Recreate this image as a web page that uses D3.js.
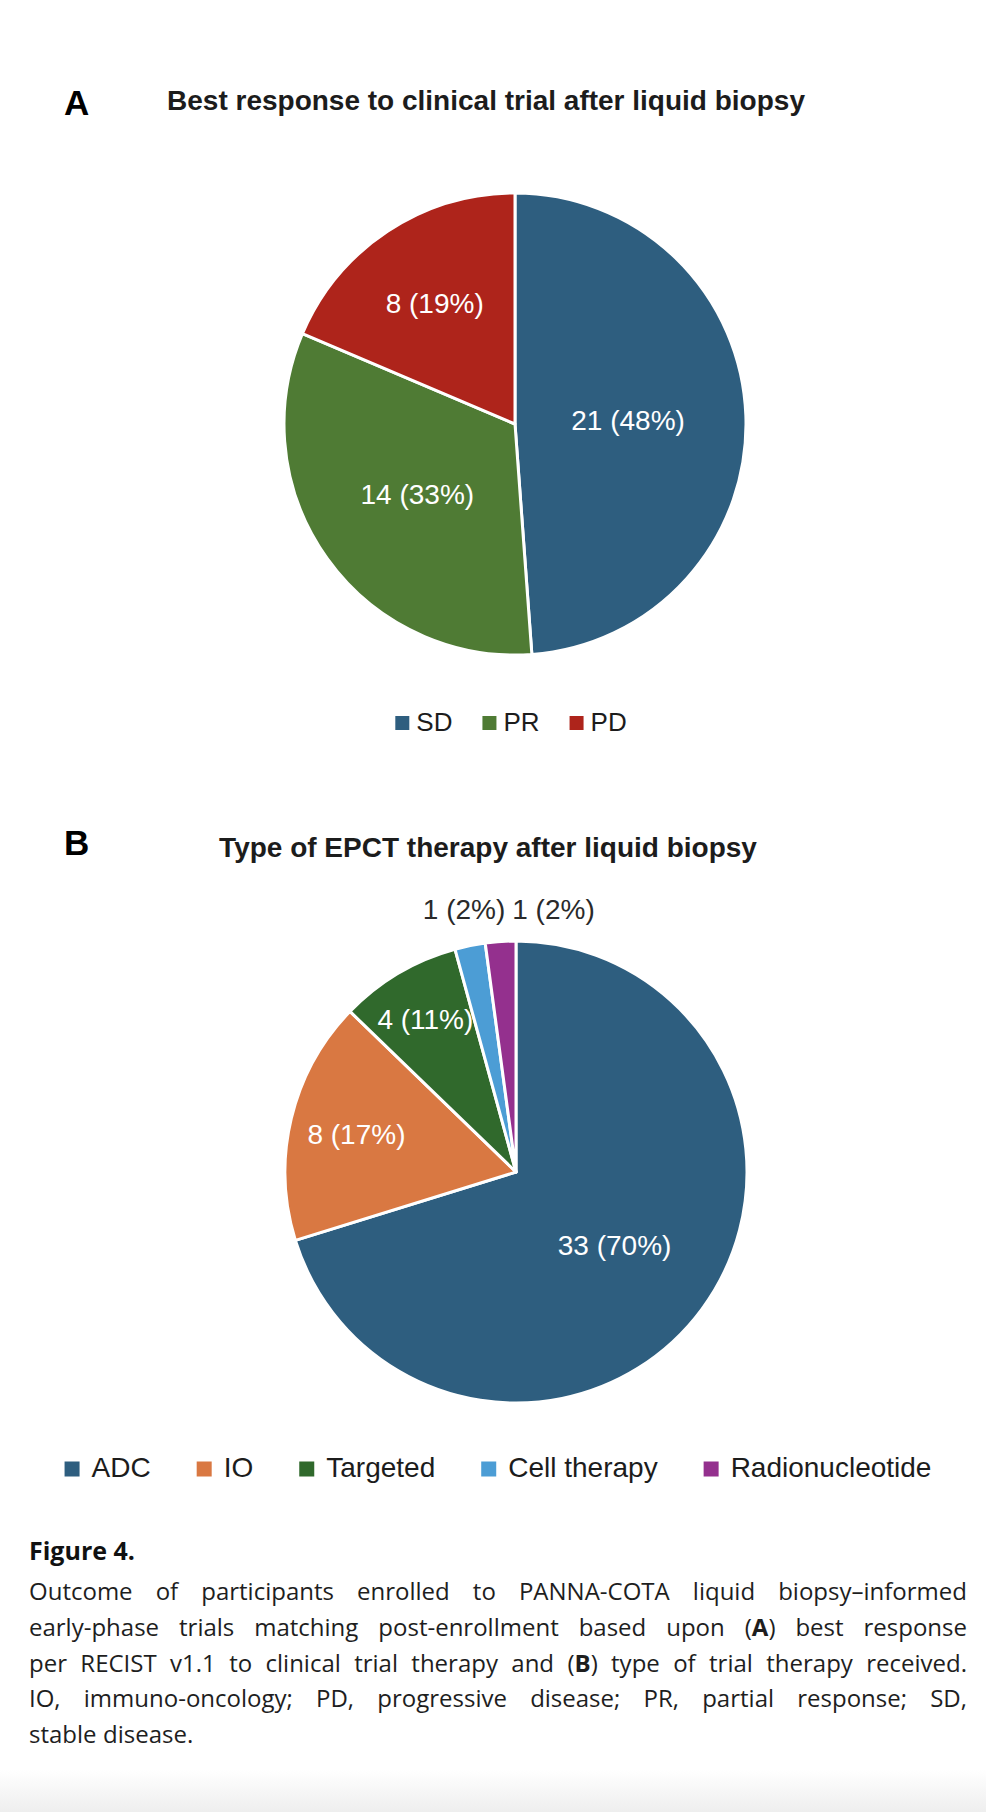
<!DOCTYPE html>
<html>
<head>
<meta charset="utf-8">
<script src="https://cdn.jsdelivr.net/npm/d3@7"></script>
<style>
  body { margin: 0; background: #fff; }
  svg { display: block; }
</style>
</head>
<body>
<svg id="fig" width="986" height="1812"></svg>
<script>
// ---- panel A: best response
var responseCats = ['SD', 'PR', 'PD'];
var responseCounts = [21, 14, 8];
var responseLabels = ['21 (48%)', '14 (33%)', '8 (19%)'];
var responseColors = ['#2e5e7f', '#4f7b34', '#ae241b'];
var responseLabelRad = [0.49, 0.52, 0.63];

// ---- panel B: type of therapy
var therapyCats = ['ADC', 'IO', 'Targeted', 'Cell therapy', 'Radionucleotide'];
var therapyCounts = [33, 8, 4, 1, 1];
var therapyLabels = ['33 (70%)', '8 (17%)', '4 (11%)', '1 (2%)', '1 (2%)'];
var therapyColors = ['#2e5e7f', '#d97842', '#30692c', '#4c9dd5', '#94308e'];
var therapyLabelRad = [0.53, 0.71, 0.77, null, null];   // null = label outside

var captionLines = [
    'Outcome of participants enrolled to PANNA-COTA liquid biopsy\u2013informed',
    'early-phase trials matching post-enrollment based upon (**A**) best response',
    'per RECIST v1.1 to clinical trial therapy and (**B**) type of trial therapy received.',
    'IO, immuno-oncology; PD, progressive disease; PR, partial response; SD,',
    'stable disease.'
];

var svg = d3.select('#fig');
var chartFont = '"Liberation Sans", Arial, Helvetica, sans-serif';
var capFont = '"Open Sans", Lato, sans-serif';
var R = 231;

// faint grey at the bottom edge of the page
var grad = svg.append('defs').append('linearGradient').attr('id', 'fade')
    .attr('x1', 0).attr('x2', 0).attr('y1', 0).attr('y2', 1);
grad.append('stop').attr('offset', 0).attr('stop-color', '#fff');
grad.append('stop').attr('offset', 1).attr('stop-color', '#eeeeee');
svg.append('rect').attr('x', 0).attr('y', 1770).attr('width', 986).attr('height', 42).attr('fill', 'url(#fade)');

function panelHead(letter, title, letterY, titleX, titleY) {
    svg.append('text')
        .attr('x', 64).attr('y', letterY)
        .attr('font-family', chartFont).attr('font-weight', 700).attr('font-size', 35)
        .attr('fill', '#000').text(letter);
    svg.append('text')
        .attr('x', titleX).attr('y', titleY).attr('text-anchor', 'middle')
        .attr('font-family', chartFont).attr('font-weight', 700).attr('font-size', 28)
        .attr('fill', '#1c1c1c').text(title);
}

function drawPie(counts, labels, colors, labelRad, cx, cy) {
    var arcs = d3.pie().sort(null).value(function(d) { return d; })(counts);
    var arc = d3.arc().innerRadius(0).outerRadius(R);
    var g = svg.append('g').attr('transform', 'translate(' + cx + ',' + cy + ')');

    g.selectAll('path.slice')
        .data(arcs)
      .enter().append('path')
        .attr('class', 'slice')
        .attr('d', arc)
        .attr('fill', function(d, i) { return colors[i]; })
        .attr('stroke', '#fff')
        .attr('stroke-width', 3)
        .attr('stroke-linejoin', 'round');

    // labels inside the slices
    arcs.forEach(function(d, i) {
        if (labelRad[i] === null) return;
        var k = labelRad[i] * R;
        var c = d3.arc().innerRadius(k).outerRadius(k).centroid(d);
        g.append('text')
            .attr('x', c[0]).attr('y', c[1]).attr('dy', '0.36em')
            .attr('text-anchor', 'middle')
            .attr('font-family', chartFont).attr('font-size', 28)
            .attr('fill', '#fff').text(labels[i]);
    });

    // small slices: labels above the pie, pushed apart so they don't overlap
    var outside = [];
    arcs.forEach(function(d, i) {
        if (labelRad[i] !== null) return;
        var c = d3.arc().innerRadius(R + 30).outerRadius(R + 30).centroid(d);
        var t = g.append('text')
            .attr('y', -R - 22)
            .attr('font-family', chartFont).attr('font-size', 28)
            .attr('fill', '#2a2a2a').text(labels[i]);
        var w = t.node().getComputedTextLength();
        outside.push({ t: t, x: c[0] - w / 2, w: w });
    });
    outside.sort(function(a, b) { return a.x - b.x; });
    var prevEnd = -Infinity;
    outside.forEach(function(o) {
        if (o.x < prevEnd + 7) o.x = prevEnd + 7;
        o.t.attr('x', o.x);
        prevEnd = o.x + o.w;
    });
}

function drawLegend(cats, colors, cx, y, fs, sq, pad, gap) {
    var g = svg.append('g');
    var items = cats.map(function(c, i) {
        var it = g.append('g');
        it.append('rect')
            .attr('width', sq).attr('height', sq)
            .attr('y', y - 8 - sq / 2)
            .attr('fill', colors[i]);
        var t = it.append('text')
            .attr('x', sq + pad).attr('y', y)
            .attr('font-family', chartFont).attr('font-size', fs)
            .attr('fill', '#1c1c1c').text(c);
        return { g: it, w: sq + pad + t.node().getComputedTextLength() };
    });
    var total = d3.sum(items, function(d) { return d.w; }) + gap * (items.length - 1);
    var x = cx - total / 2;
    items.forEach(function(d) {
        d.g.attr('transform', 'translate(' + x + ',0)');
        x += d.w + gap;
    });
}

// ---- panel A
panelHead('A', 'Best response to clinical trial after liquid biopsy', 115, 486, 110);
drawPie(responseCounts, responseLabels, responseColors, responseLabelRad, 515, 424);
drawLegend(responseCats, responseColors, 511, 731, 26, 14, 7, 30);

// ---- panel B
panelHead('B', 'Type of EPCT therapy after liquid biopsy', 855, 488, 857);
drawPie(therapyCounts, therapyLabels, therapyColors, therapyLabelRad, 516, 1172);
drawLegend(therapyCats, therapyColors, 498, 1477, 28, 15, 12, 46);

// ---- caption
var capLeft = 29, capRight = 967, capTop = 1600, capLead = 35.8, capSize = 24;

svg.append('text')
    .attr('x', capLeft).attr('y', 1560)
    .attr('font-family', capFont).attr('font-weight', 700).attr('font-size', 25)
    .attr('fill', '#111').text('Figure 4.');

captionLines.forEach(function(line, li) {
    var y = capTop + li * capLead;
    var words = line.split(' ');
    var nodes = words.map(function(w) {
        var t = svg.append('text')
            .attr('y', y)
            .attr('font-family', capFont).attr('font-size', capSize)
            .attr('fill', '#1e1e1e');
        w.split('**').forEach(function(part, k) {
            if (part) t.append('tspan').attr('font-weight', k % 2 ? 700 : 400).text(part);
        });
        return t;
    });
    var widths = nodes.map(function(n) { return n.node().getComputedTextLength(); });
    var space = li === captionLines.length - 1 ? 6.5
        : (capRight - capLeft - d3.sum(widths)) / (words.length - 1);
    // if a line is too long, squeeze the words a little rather than overlap them
    if (space < 5) {
        var k = (capRight - capLeft - 5 * (words.length - 1)) / d3.sum(widths);
        nodes.forEach(function(n, i) {
            n.attr('textLength', widths[i] * k).attr('lengthAdjust', 'spacingAndGlyphs');
            widths[i] *= k;
        });
        space = 5;
    }
    var x = capLeft;
    nodes.forEach(function(n, i) {
        n.attr('x', x);
        x += widths[i] + space;
    });
});
</script>
</body>
</html>
